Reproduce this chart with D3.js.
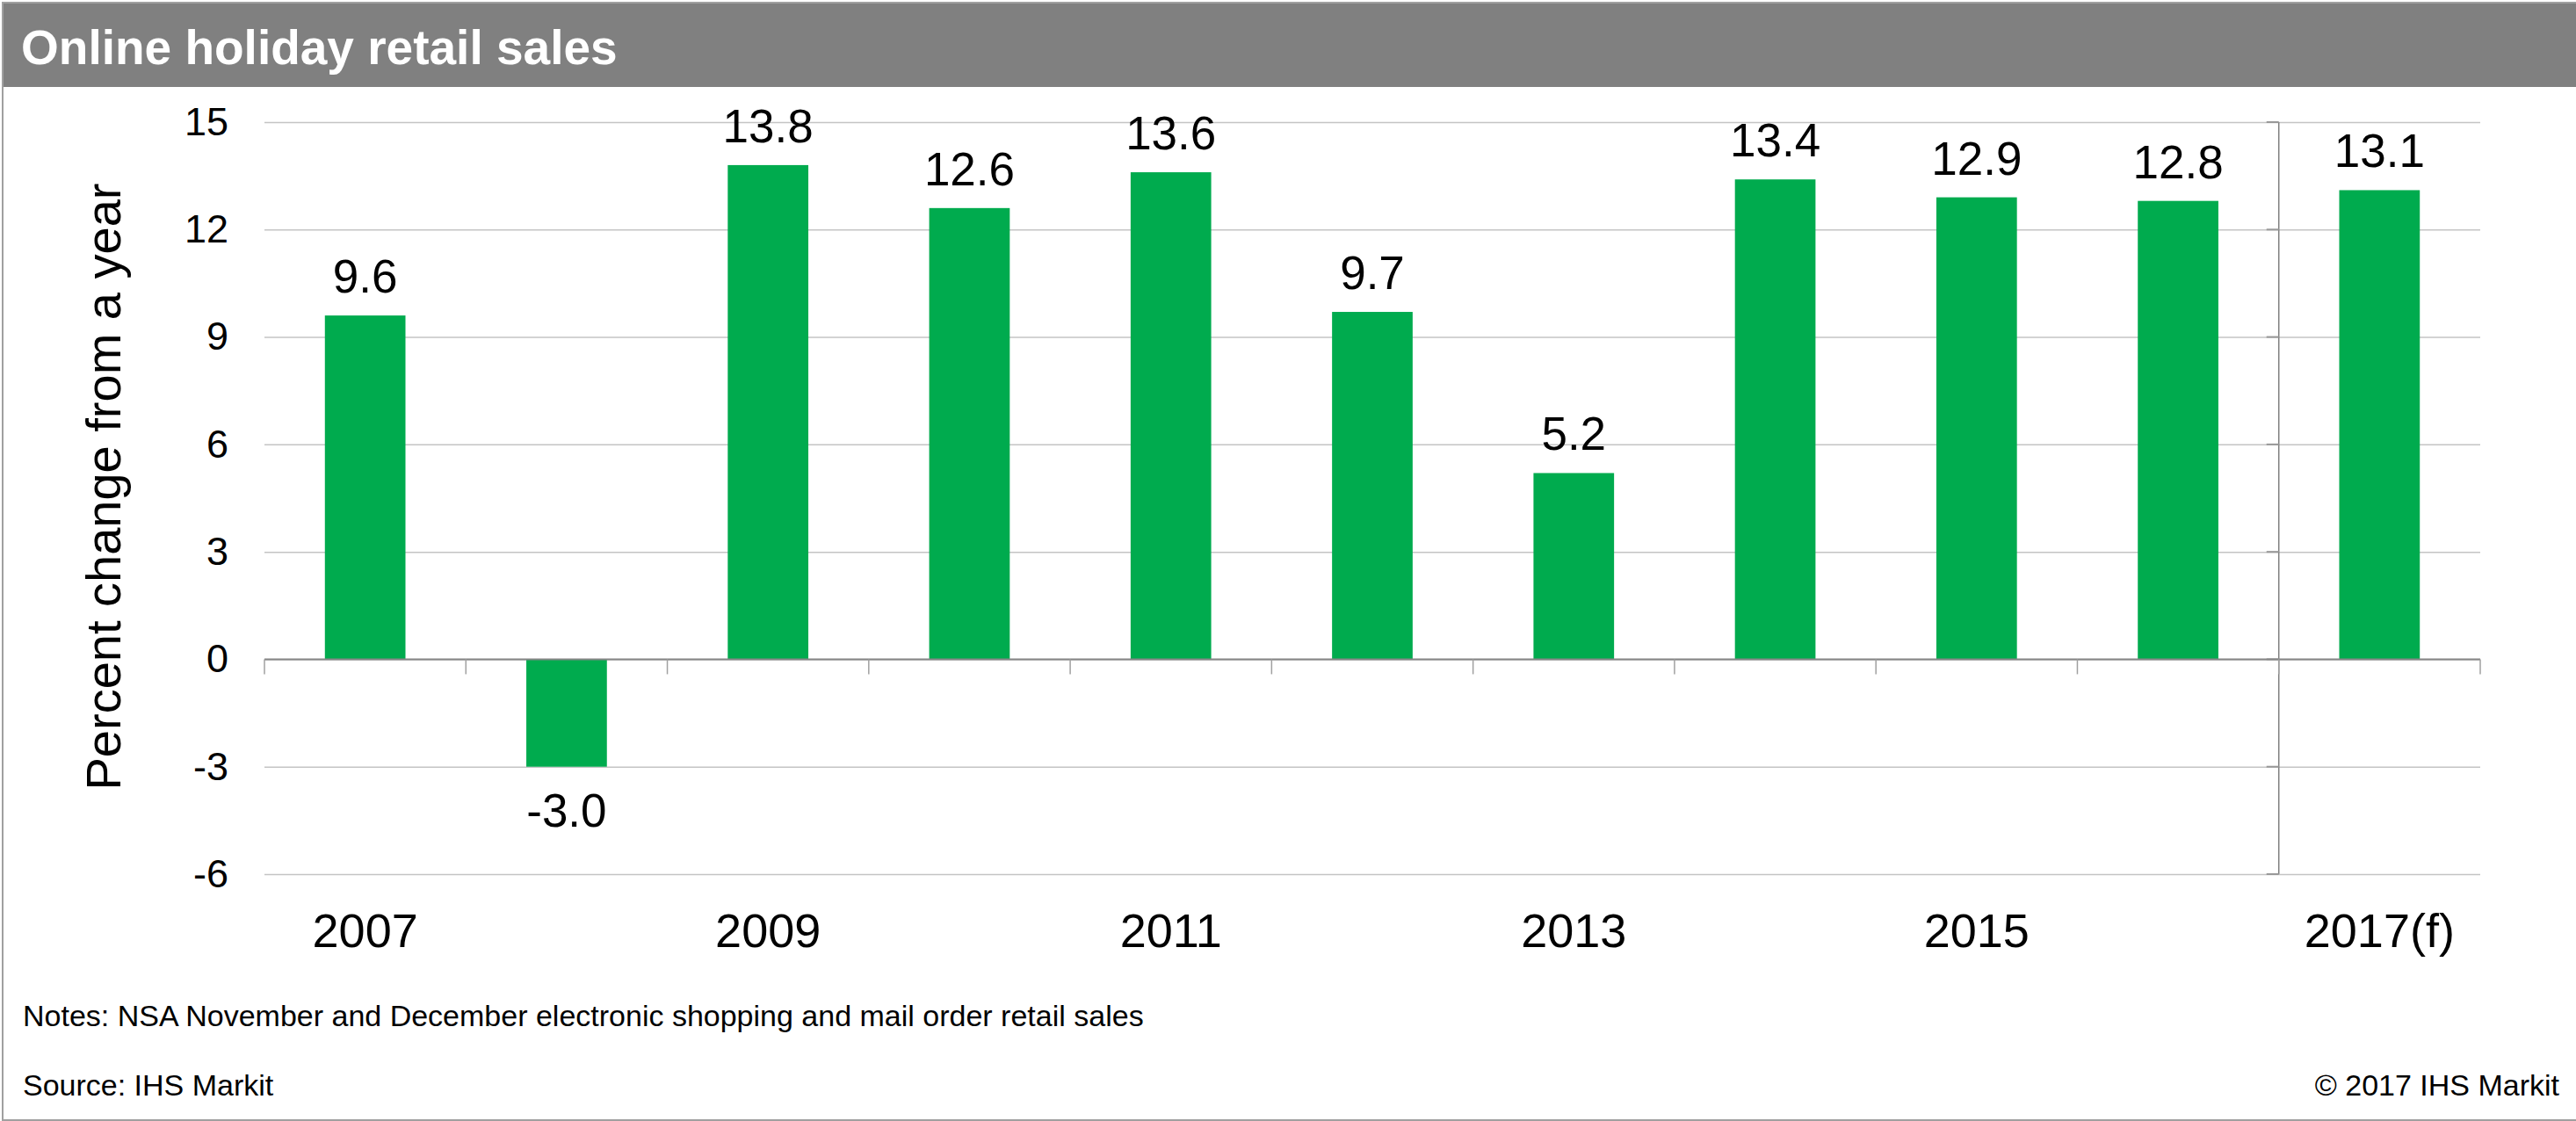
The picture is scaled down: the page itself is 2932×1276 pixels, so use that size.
<!DOCTYPE html>
<html>
<head>
<meta charset="utf-8">
<script src="https://cdn.jsdelivr.net/npm/d3@7"></script>
<style>
  body { margin: 0; background: #fff; }
  svg { display: block; font-family: 'Liberation Sans', Arial, sans-serif; }
</style>
</head>
<body>
<div id="chart"></div>
<script>
const years = ['2007', '2008', '2009', '2010', '2011', '2012', '2013', '2014', '2015', '2016', '2017'];
const yearLabels = ['2007', '', '2009', '', '2011', '', '2013', '', '2015', '', '2017(f)'];
const growth = [9.6, -3.0, 13.8, 12.6, 13.6, 9.7, 5.2, 13.4, 12.9, 12.8, 13.1];
const yTicks = [-6, -3, 0, 3, 6, 9, 12, 15];

const width = 2932,
  height = 1276;
const plot = { left: 301, right: 2823, top: 139, bottom: 995 };

const svg = d3
  .select('#chart')
  .append('svg')
  .attr('width', width)
  .attr('height', height);

// frame + title bar
svg.append('rect')
  .attr('x', 3).attr('y', 3)
  .attr('width', width - 3).attr('height', 96)
  .attr('fill', '#808080');
svg.append('path')
  .attr('d', `M${width},3H3V1275H${width}`)
  .attr('fill', 'none')
  .attr('stroke', '#a0a0a0')
  .attr('stroke-width', 2);
svg.append('text')
  .attr('x', 24).attr('y', 73)
  .attr('fill', '#fff')
  .style('font-weight', 'bold')
  .style('font-size', '55px')
  .text('Online holiday retail sales');

const y = d3.scaleLinear().domain([-6, 15]).range([plot.bottom, plot.top]);
const slot = d3.scaleBand().domain(years).range([plot.left, plot.right]).padding(0);
const x = d3.scaleBand().domain(years).range([plot.left, plot.right])
  .paddingInner(0.6).paddingOuter(0.3);

// y axis with gridlines
const yAxis = svg.append('g')
  .attr('transform', `translate(${plot.left},0)`)
  .call(
    d3.axisLeft(y)
      .tickValues(yTicks)
      .tickFormat((d) => String(d))
      .tickSize(-(plot.right - plot.left))
      .tickPadding(41)
  );
yAxis.select('.domain').remove();
yAxis.selectAll('line').attr('stroke', '#c4c4c4').attr('stroke-width', 1.5);
yAxis.selectAll('text')
  .attr('fill', '#000')
  .style('font-size', '45px')
  .style('font-family', "'Liberation Sans', Arial, sans-serif");

// forecast separator
svg.append('line')
  .attr('x1', slot('2017')).attr('x2', slot('2017'))
  .attr('y1', y(15)).attr('y2', y(-6))
  .attr('stroke', '#808080').attr('stroke-width', 1.5);
svg.append('g')
  .selectAll('line')
  .data(yTicks)
  .join('line')
  .attr('x1', slot('2017') - 14).attr('x2', slot('2017'))
  .attr('y1', (d) => y(d)).attr('y2', (d) => y(d))
  .attr('stroke', '#999').attr('stroke-width', 2);

// bars
svg.append('g')
  .selectAll('rect')
  .data(growth)
  .join('rect')
  .attr('x', (d, i) => x(years[i]))
  .attr('width', x.bandwidth())
  .attr('y', (d) => y(Math.max(0, d)))
  .attr('height', (d) => Math.abs(y(d) - y(0)))
  .attr('fill', '#00ab4e');

// zero axis with category ticks
svg.append('line')
  .attr('x1', plot.left).attr('x2', plot.right)
  .attr('y1', y(0)).attr('y2', y(0))
  .attr('stroke', '#868686').attr('stroke-width', 2);
const bounds = years.map((d) => slot(d)).concat([plot.right]);
svg.append('g')
  .selectAll('line')
  .data(bounds)
  .join('line')
  .attr('x1', (d) => d).attr('x2', (d) => d)
  .attr('y1', y(0)).attr('y2', y(0) + 17)
  .attr('stroke', '#a0a0a0').attr('stroke-width', 1.5);

// value labels
svg.append('g')
  .selectAll('text')
  .data(growth)
  .join('text')
  .attr('x', (d, i) => x(years[i]) + x.bandwidth() / 2)
  .attr('y', (d) => (d >= 0 ? y(d) - 26 : y(d) + 68))
  .attr('text-anchor', 'middle')
  .style('font-size', '53px')
  .text((d) => d.toFixed(1));

// category labels
svg.append('g')
  .selectAll('text')
  .data(yearLabels)
  .join('text')
  .attr('x', (d, i) => slot(years[i]) + slot.bandwidth() / 2)
  .attr('y', 1078)
  .attr('text-anchor', 'middle')
  .style('font-size', '54px')
  .text((d) => d);

// y title
svg.append('text')
  .attr('transform', 'translate(137,554) rotate(-90)')
  .attr('text-anchor', 'middle')
  .style('font-size', '56px')
  .text('Percent change from a year');

// footer
svg.append('text')
  .attr('x', 26).attr('y', 1168)
  .style('font-size', '34px')
  .text('Notes: NSA November and December electronic shopping and mail order retail sales');
svg.append('text')
  .attr('x', 26).attr('y', 1247)
  .style('font-size', '34px')
  .text('Source: IHS Markit');
svg.append('text')
  .attr('x', 2913).attr('y', 1247)
  .attr('text-anchor', 'end')
  .style('font-size', '34px')
  .text('© 2017 IHS Markit');
</script>
</body>
</html>
